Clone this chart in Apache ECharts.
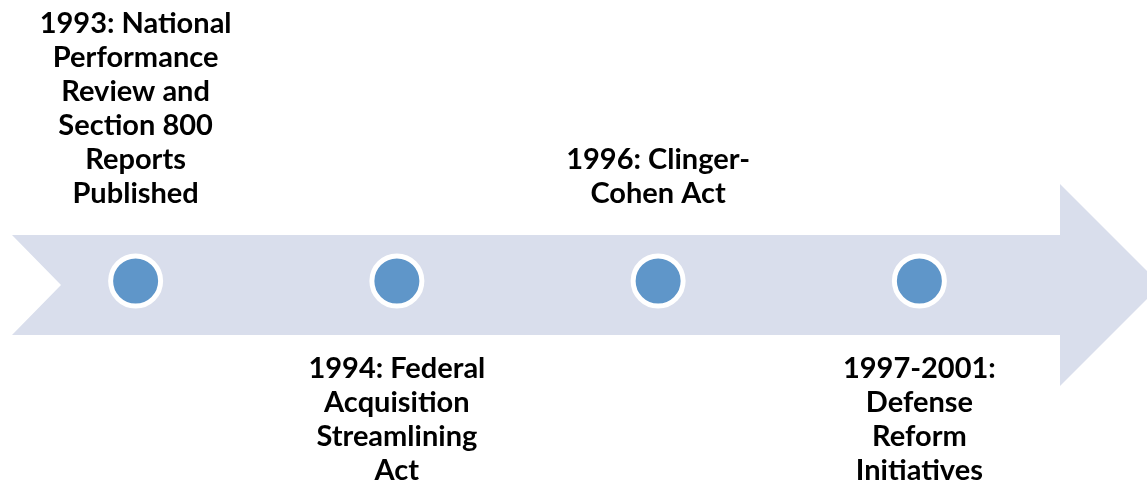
<!DOCTYPE html>
<html>
<head>
<meta charset="utf-8">
<script src="https://cdn.jsdelivr.net/npm/echarts@6/dist/echarts.min.js"></script>
<style>
  html, body { margin: 0; padding: 0; background: #fff; }
  #chart { width: 1147px; height: 481px; }
</style>
</head>
<body>
<div id="chart"></div>
<script>
// timeline events, left to right
const events = [
  '1993: National\nPerformance\nReview and\nSection 800\nReports\nPublished',
  '1994: Federal\nAcquisition\nStreamlining\nAct',
  '1996: Clinger-\nCohen Act',
  '1997-2001:\nDefense\nReform\nInitiatives'
];
// which side of the arrow each label sits on
const sides = ['top', 'bottom', 'top', 'bottom'];

var myChart = echarts.init(document.getElementById('chart'));

const option = {
  animation: false,
  grid: { left: 5, width: 1045, top: 231, height: 100 },
  xAxis: { type: 'value', min: -0.5, max: 3.5, show: false },
  yAxis: { type: 'value', min: -1, max: 1, show: false },
  // the big arrow behind the dots
  graphic: [{
    type: 'polygon',
    z: 0,
    shape: {
      points: [[12, 235], [1060, 235], [1060, 184], [1161, 285], [1060, 386],
               [1060, 335], [12, 335], [61, 285]]
    },
    style: { fill: '#D9DEEC' }
  }],
  series: [{
    type: 'scatter',
    z: 5,
    symbol: 'circle',
    symbolSize: 50,
    itemStyle: { color: '#5F96C9', borderColor: '#fff', borderWidth: 5, opacity: 1 },
    data: events.map((txt, i) => ({
      value: [i, 0],
      name: txt,
      label: {
        show: true,
        position: sides[i],
        distance: sides[i] === 'top' ? 43 : 43
      }
    })),
    label: {
      formatter: p => p.name,
      color: '#000',
      fontFamily: 'Lato',
      fontWeight: 'bold',
      fontSize: 29,
      lineHeight: 34,
      align: 'center'
    },
    emphasis: { disabled: true }
  }]
};

myChart.setOption(option);
</script>
</body>
</html>
